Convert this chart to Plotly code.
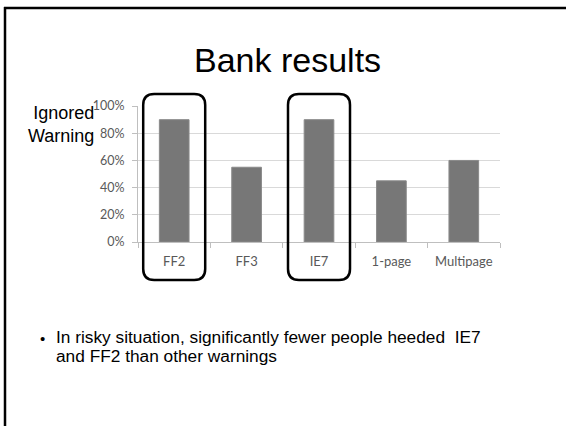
import plotly.graph_objects as go

categories = ["FF2", "FF3", "IE7", "1-page", "Multipage"]
ignored_share = [0.90, 0.55, 0.90, 0.45, 0.60]
highlighted = ["FF2", "IE7"]
y_ticks = [0, 0.2, 0.4, 0.6, 0.8, 1.0]
bullet_lines = ["In risky situation, significantly fewer people heeded&nbsp; IE7",
                "and FF2 than other warnings"]

W, H = 566, 426
L, R, T, B = 138, 500, 106, 242


def px(x):
    return (x - L) / (R - L)


def py(y):
    return (B - y) / (B - T)


fig = go.Figure(go.Bar(
    x=categories, y=ignored_share,
    marker=dict(color="#777777", line=dict(color="#8a8a8a", width=1)),
    width=0.41,
))

shapes = []
# slide border (top and left)
shapes.append(dict(type="line", xref="paper", yref="paper", x0=px(4), x1=px(570), y0=py(8), y1=py(8),
                   line=dict(color="black", width=2.5)))
shapes.append(dict(type="line", xref="paper", yref="paper", x0=px(5), x1=px(5), y0=py(7), y1=py(430),
                   line=dict(color="black", width=2.5)))

# rounded highlight boxes around categories
n = len(categories)
for c in highlighted:
    i = categories.index(c)
    cx = (i + 0.5) / n
    hw = 31 / (R - L)
    x0, x1 = cx - hw, cx + hw
    y0, y1 = py(280), py(94)
    rx, ry = 11 / (R - L), 11 / (B - T)
    path = (f"M {x0+rx},{y1} L {x1-rx},{y1} Q {x1},{y1} {x1},{y1-ry} "
            f"L {x1},{y0+ry} Q {x1},{y0} {x1-rx},{y0} L {x0+rx},{y0} "
            f"Q {x0},{y0} {x0},{y0+ry} L {x0},{y1-ry} Q {x0},{y1} {x0+rx},{y1} Z")
    shapes.append(dict(type="path", xref="paper", yref="paper", path=path,
                       line=dict(color="black", width=2.5)))

annotations = [
    dict(text="Bank results", xref="paper", yref="paper", x=px(287), y=py(60),
         xanchor="center", yanchor="middle", showarrow=False,
         font=dict(family="Liberation Sans, Arial", size=34, color="black")),
    dict(text="Ignored<br>Warning", xref="paper", yref="paper", x=px(96), y=py(124),
         xanchor="right", yanchor="middle", align="right", showarrow=False,
         font=dict(family="Liberation Sans, Arial", size=18, color="black")),
    dict(text="•", xref="paper", yref="paper", x=px(42), y=py(338),
         xanchor="center", yanchor="middle", showarrow=False,
         font=dict(family="Liberation Sans, Arial", size=15, color="black")),
]
for k, line in enumerate(bullet_lines):
    annotations.append(dict(text=line, xref="paper", yref="paper", x=px(54), y=py(337 + 19 * k),
                            xanchor="left", yanchor="middle", align="left", showarrow=False,
                            font=dict(family="Liberation Sans, Arial", size=17.3, color="black")))

fig.update_layout(
    width=W, height=H,
    margin=dict(l=L, r=W - R, t=T, b=H - B, pad=0),
    plot_bgcolor="white", paper_bgcolor="white",
    showlegend=False,
    shapes=shapes,
    annotations=annotations,
    xaxis=dict(
        type="category", tickson="boundaries", ticks="outside", ticklen=5,
        tickcolor="#bfbfbf", showline=True, linecolor="#bfbfbf", linewidth=1,
        showgrid=False, ticklabelstandoff=7,
        tickfont=dict(family="Lato, Open Sans", size=13, color="#595959"),
    ),
    yaxis=dict(
        range=[0, 1.0005], tickvals=y_ticks, tickformat=".0%",
        ticks="outside", ticklen=5, tickcolor="#bfbfbf",
        showline=True, linecolor="#bfbfbf", linewidth=1,
        showgrid=True, gridcolor="#d9d9d9", gridwidth=1, zeroline=False,
        ticklabelstandoff=5,
        tickfont=dict(family="Lato, Open Sans", size=12.5, color="#595959"),
    ),
)

fig.write_html("out.html")
